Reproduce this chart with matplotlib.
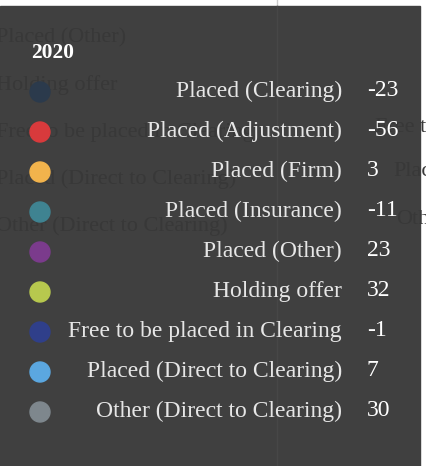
import matplotlib.pyplot as plt
from matplotlib.patches import Rectangle, Circle

title = '2020'
labels = ['Placed (Clearing)', 'Placed (Adjustment)', 'Placed (Firm)', 'Placed (Insurance)',
          'Placed (Other)', 'Holding offer', 'Free to be placed in Clearing',
          'Placed (Direct to Clearing)', 'Other (Direct to Clearing)']
values = [-23, -56, 3, -11, 23, 32, -1, 7, 30]
colors = ['#2b3a4c', '#d83a3c', '#f2b34c', '#3f8391', '#7b3b8c', '#b7c84e',
          '#2f3f8a', '#5ba7e0', '#7e878d']
behind = ['Placed (Other)', 'Holding offer', 'Free to be placed in Clearing',
          'Placed (Direct to Clearing)', 'Other (Direct to Clearing)']

W, H = 426, 466
fig = plt.figure(figsize=(W / 100, H / 100), dpi=100)
ax = fig.add_axes([0, 0, 1, 1])
ax.set_xlim(0, W)
ax.set_ylim(H, 0)
ax.axis('off')
plt.rcParams['font.family'] = ['Liberation Serif', 'DejaVu Serif']

ax.add_patch(Rectangle((0, 0), W, H, color='white', zorder=0))
ax.plot([277, 277], [0, 6], color='#cccccc', lw=1, zorder=1)
ax.add_patch(Rectangle((0, 6), 420, H - 6, color='#404040', zorder=2))
ax.plot([277, 277], [6, H], color='#474747', lw=1, zorder=3)

# faded chart text behind the tooltip
for i, t in enumerate(behind):
    ax.text(-4, 38 + i * 47, t, color='#383838', fontsize=16, va='center', ha='left', zorder=3)
ax.text(375, 128, 'Free t', color='#383838', fontsize=16, va='center', zorder=3)
ax.text(393, 172, 'Place', color='#383838', fontsize=16, va='center', zorder=3)
ax.text(396, 220, 'Oth', color='#383838', fontsize=16, va='center', zorder=3)

ax.text(31, 53, title, color='white', fontsize=15.5, fontweight='bold', va='center', zorder=5)
for i, (lab, v, c) in enumerate(zip(labels, values, colors)):
    y = 91 + i * 40
    ax.add_patch(Circle((40, y + 1), 10, color=c, zorder=5))
    ax.text(342, y, lab, color='#e6e6e6', fontsize=17, ha='right', va='center', zorder=5)
    ax.text(367, y, str(v), color='white', fontsize=17, ha='left', va='center', zorder=5)

fig.savefig('out.png', dpi=100)
